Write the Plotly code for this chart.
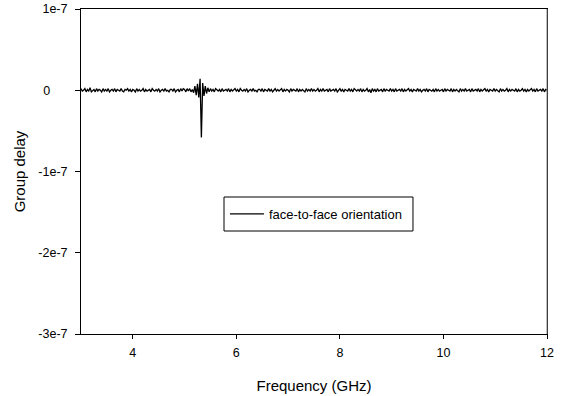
import numpy as np
import plotly.graph_objects as go

# Frequency grid (GHz), 0.025 GHz step from 3 to 12
freq_start = 3.0
freq_step = 0.025
# Group delay, in units of 1e-9 s
delay_ns = [
    2, -1, 0, 2, -2, 1, -1, 3, -2, 0, 1, -2, 2, -1, 1, 0, -2, 2, -1, 1,
    -1, 2, -2, 0, 1, -1, 2, -2, 1, 0, -1, 2, -1, -2, 1, 0, 2, -1, 1, -2,
    1, 0, -2, 2, -1, 1, -1, 0, 2, -2, 1, -1, 0, 1, -2, 2, 0, -1, 1, -1,
    2, -2, 0, 1, -1, 2, -1, 0, -2, 1, 1, -1, 2, -2, 0, 1, -2, 2, -1, 2,
    1, -2, 2, -1, 2, -2, 1, -3, 5, -6, 8, -9, 14, -58, 9, -7, 5, -4, 3, -2,
    2, -1, 1, -2, 2, 0, -1, 1, -2, 2, -1, 0, 1, -1, 2, -2, 1, -1, 0, 2,
    -1, 1, -2, 2, 0, -1, 1, -1, 2, -2, 0, 1, -1, 2, -1, 0, -2, 1, 1, -1,
    2, -2, 1, 0, -1, 2, -1, 1, -2, 0, 2, -1, 1, -1, 0, 2, -2, 1, -1, 1,
    0, -2, 2, -1, 1, 0, -1, 2, -2, 1, -1, 1, 0, -2, 2, -1, 1, -1, 2, -1,
    1, -1, 0, 2, -2, 1, -1, 2, -1, 0, 1, -2, 2, -1, 0, 1, -1, 2, -2, 0,
    2, -1, 1, -2, 1, 0, -1, 2, -1, 1, -2, 2, 0, -1, 1, -1, 2, -2, 1, -1,
    0, 2, -2, 1, -3, 2, -1, 1, -2, 2, -1, 0, 1, -2, 2, -1, 1, 0, -1, 2,
    -1, 1, -2, 2, -1, 0, 1, -1, 2, -2, 1, -1, 0, 2, -1, 1, -2, 1, 0, -1,
    2, -1, 1, -2, 0, 1, -1, 2, -2, 1, 0, -1, 1, -2, 2, -1, 1, -1, 0, 1,
    -2, 2, -1, 1, 0, -1, 2, -2, 1, -1, 1, 0, -2, 2, -1, 1, -1, 2, -1, 0,
    1, -2, 2, -1, 0, 1, -1, 2, -2, 1, -1, 0, 2, -1, 1, -2, 1, 0, -1, 2,
    -1, 1, 0, -2, 2, -1, 1, -1, 0, 2, -2, 1, -1, 1, 0, -1, 2, -2, 1, -1,
    0, 2, -1, 1, -2, 1, -1, 0, 2, -1, 1, -2, 2, -1, 0, 1, -1, 2, -2, 1,
    0,
]
series_name = "face-to-face orientation"
x_tick_vals = [4, 6, 8, 10, 12]
x_tick_text = ["4", "6", "8", "10", "12"]
y_tick_vals = [-3e-7, -2e-7, -1e-7, 0, 1e-7]
y_tick_text = ["-3e-7", "-2e-7", "-1e-7", "0" + "\u00a0" * 5, "1e-7"]

freq = freq_start + freq_step * np.arange(len(delay_ns))
delay = np.array(delay_ns) * 1e-9

fig = go.Figure()
fig.add_trace(go.Scatter(x=freq, y=delay, mode="lines", name=series_name,
                         line=dict(color="black", width=1.3)))

font_family = "Liberation Sans, Arial, sans-serif"
fig.update_layout(
    width=564, height=396,
    margin=dict(l=81, r=17, t=9, b=62, autoexpand=False),
    plot_bgcolor="white", paper_bgcolor="white",
    font=dict(family=font_family, size=12.5, color="black"),
    showlegend=True,
    legend=dict(x=0.3069 + 0.002, y=0.3692, xanchor="left", yanchor="middle",
                borderwidth=0, bgcolor="rgba(0,0,0,0)",
                itemwidth=34, font=dict(size=13)),
    xaxis=dict(range=[3, 12], tickvals=x_tick_vals, ticktext=x_tick_text,
               ticks="outside", ticklen=4, automargin=False, ticklabelstandoff=3,
               tickcolor="black", showline=True, linecolor="black", linewidth=1,
               mirror=True, showgrid=False, zeroline=False,
               title=dict(text="Frequency (GHz)", font=dict(size=15), standoff=21)),
    yaxis=dict(range=[-3e-7, 1e-7], tickvals=y_tick_vals, ticktext=y_tick_text,
               ticks="outside", ticklen=5, tickcolor="black", showline=True,
               linecolor="black", linewidth=1, mirror=True, showgrid=False,
               zeroline=False, ticklabelstandoff=5, automargin=False,
               title=dict(text="Group delay", font=dict(size=15), standoff=9)),
    shapes=[
        dict(type="rect", xref="paper", yref="paper",
             x0=0.3069, x1=0.7124, y0=0.3169, y1=0.4215,
             line=dict(color="black", width=1), fillcolor="white", layer="above"),
        dict(type="line", xref="paper", yref="paper", x0=1, x1=1, y0=0, y1=1,
             line=dict(color="#808080", width=1), layer="above"),
    ],
)
fig.write_html("out.html", config={"displayModeBar": False},
               post_script="document.body.style.margin='0px';")
